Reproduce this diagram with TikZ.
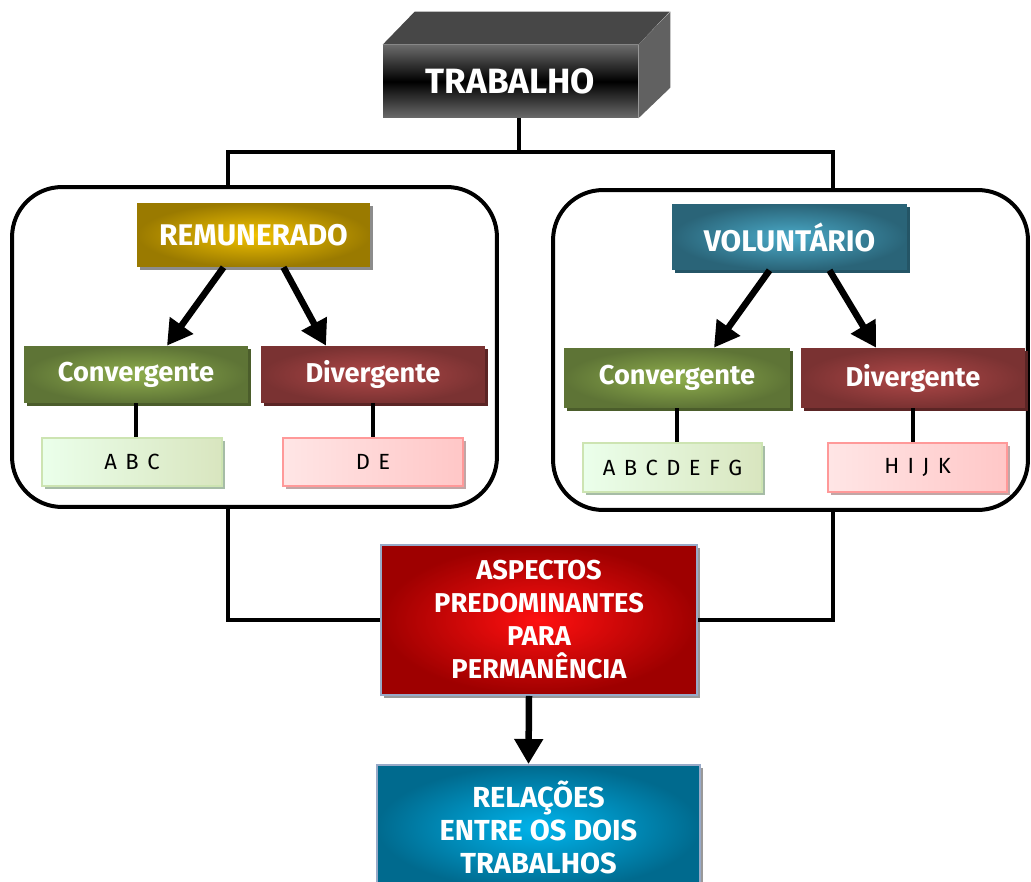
\documentclass[tikz,border=0pt]{standalone}
\usepackage{fontspec}
\setmainfont{Fira Sans}
\usepackage{tikz}
\usetikzlibrary{arrows.meta,shadows}
\usepackage{xcolor}
\definecolor{goldIn}{HTML}{F2C200}
\definecolor{goldOut}{HTML}{9A7A00}
\definecolor{greenIn}{HTML}{8FAE4D}
\definecolor{greenOut}{HTML}{5E7436}
\definecolor{redIn}{HTML}{B04848}
\definecolor{redOut}{HTML}{7A3232}
\definecolor{tealIn}{HTML}{4AAAC8}
\definecolor{tealOut}{HTML}{2A6478}
\definecolor{fireIn}{HTML}{FF1010}
\definecolor{fireOut}{HTML}{9E0000}
\definecolor{skyIn}{HTML}{00B4EC}
\definecolor{skyOut}{HTML}{006A8E}
\definecolor{frameBlue}{HTML}{98AAC8}

\begin{document}
\begin{tikzpicture}[x=0.02cm,y=-0.02cm,>={Triangle[length=0.5cm,width=0.55cm]},
  titlebox/.style={text=white,font=\bfseries\fontsize{17}{20}\selectfont,inner sep=0pt,
    drop shadow={shadow xshift=0.06cm,shadow yshift=-0.06cm,opacity=1,fill=#1}},
  subbox/.style={titlebox=#1,font=\bfseries\fontsize{15.5}{18}\selectfont},
  bigbox/.style={titlebox=#1,draw=frameBlue,line width=0.04cm,align=center,
    font=\bfseries\fontsize{15.5}{18.8}\selectfont},
  itembox/.style={text=black,inner sep=0pt,line width=0.04cm,
    font=\fontsize{12.5}{14}\selectfont\addfontfeature{LetterSpace=12},
    drop shadow={shadow xshift=0.06cm,shadow yshift=-0.06cm,opacity=1,fill=#1}},
  group/.style={draw,line width=0.08cm,rounded corners=1cm,inner sep=0pt},
  conn/.style={line width=0.08cm},
  arr/.style={->,line width=0.13cm}]
\useasboundingbox (0,0) rectangle (1031,882);

% the two frames
\node[group,minimum width=9.7cm,minimum height=6.4cm] (grpL) at (254.5,347) {};
\node[group,minimum width=9.5cm,minimum height=6.4cm] (grpR) at (790.5,350) {};

% top block
\node[text=white,font=\bfseries\fontsize{20}{22}\selectfont,minimum width=5.1cm,minimum height=1.46cm,
  top color=black!58,bottom color=black!58,middle color=black] (trabalho) at (510.5,81.5) {TRABALHO};
\fill[black!72] (trabalho.north west) -- ++(32,-33) -- ++(255,0) -- (trabalho.north east) -- cycle;
\fill[black!62] (trabalho.north east) -- ++(32,-33) -- ++(0,76) -- (trabalho.south east) -- cycle;

% left side
\node[titlebox=black!45,inner color=goldIn,outer color=goldOut,minimum width=4.66cm,minimum height=1.28cm] (remunerado) at (253.5,235) {REMUNERADO};
\node[subbox=greenOut!80!black,inner color=greenIn,outer color=greenOut,minimum width=4.48cm,minimum height=1.14cm] (convL) at (136,374.5) {Convergente};
\node[subbox=redOut!75!black,inner color=redIn,outer color=redOut,minimum width=4.48cm,minimum height=1.14cm] (divL) at (373,374.5) {Divergente};
\node[itembox=green!25!black!35,draw=green!30!olive!30,left color=green!8!white,right color=green!20!olive!25,minimum width=3.6cm,minimum height=0.96cm] (abc) at (132,462) {A B C};
\node[itembox=red!30!black!35,draw=red!40,left color=red!10,right color=red!22,minimum width=3.6cm,minimum height=0.96cm] (de) at (373,462) {D E};

% right side
\node[titlebox=tealOut!85!black,inner color=tealIn,outer color=tealOut,minimum width=4.7cm,minimum height=1.32cm] (voluntario) at (789.5,237) {VOLUNTÁRIO};
\node[subbox=greenOut!80!black,inner color=greenIn,outer color=greenOut,minimum width=4.52cm,minimum height=1.2cm] (convR) at (677,378) {Convergente};
\node[subbox=redOut!75!black,inner color=redIn,outer color=redOut,minimum width=4.48cm,minimum height=1.2cm] (divR) at (913,378) {Divergente};
\node[itembox=green!25!black!35,draw=green!30!olive!30,left color=green!8!white,right color=green!20!olive!25,minimum width=3.58cm,minimum height=0.98cm] (abcdefg) at (672.5,467.5) {A B C D E F G};
\node[itembox=red!30!black!35,draw=red!40,left color=red!10,right color=red!22,minimum width=3.58cm,minimum height=0.98cm] (hijk) at (917.5,467.5) {H I J K};

% bottom blocks
\node[bigbox=black!40,inner color=fireIn,outer color=fireOut,minimum width=6.32cm,minimum height=3cm] (aspectos) at (539,620) {ASPECTOS\\PREDOMINANTES\\PARA\\PERMANÊNCIA};
\node[bigbox=black!40,inner color=skyIn,outer color=skyOut,minimum width=6.46cm,minimum height=2.5cm,font=\bfseries\fontsize{16.5}{18.8}\selectfont] (relacoes) at (538.5,827.5) {RELAÇÕES\\ENTRE OS DOIS\\TRABALHOS};

% connectors
\coordinate (jT) at (519,152);
\coordinate (jL) at (228,152);
\coordinate (jR) at (833,152);
\draw[conn] (trabalho.south -| jT) -- (jT);
\draw[conn] (jL |- grpL.north) -- (jL) -- (jR) -- (jR |- grpR.north);
\draw[arr] ([xshift=-0.6cm]remunerado.south) -- ([xshift=0.62cm]convL.north);
\draw[arr] ([xshift=0.6cm]remunerado.south) -- ([xshift=-0.94cm]divL.north);
\draw[arr] ([xshift=-0.4cm]voluntario.south) -- ([xshift=0.74cm]convR.north);
\draw[arr] ([xshift=0.8cm]voluntario.south) -- ([xshift=-0.74cm]divR.north);
\draw[conn] (convL.south) -- (convL.south |- abc.north);
\draw[conn] (divL.south) -- (divL.south |- de.north);
\draw[conn] (convR.south) -- (convR.south |- abcdefg.north);
\draw[conn] (divR.south) -- (divR.south |- hijk.north);
\draw[conn] (jL |- grpL.south) |- (aspectos.west);
\draw[conn] (jR |- grpR.south) |- (aspectos.east);
\draw[arr] ([xshift=-0.2cm]aspectos.south) -- ([xshift=-0.2cm]relacoes.north);
\end{tikzpicture}
\end{document}
